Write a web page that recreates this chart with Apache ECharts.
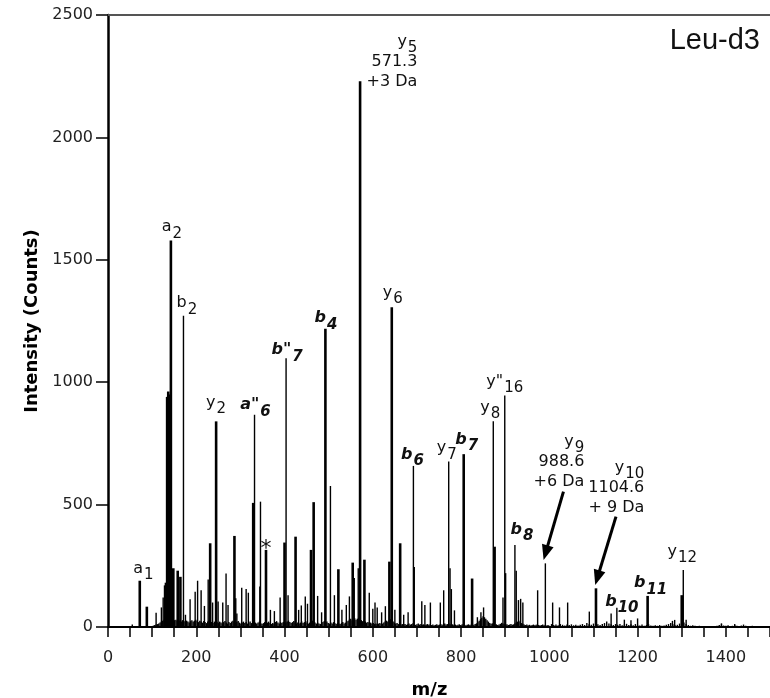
<!DOCTYPE html>
<html><head><meta charset="utf-8">
<script src="https://cdn.jsdelivr.net/npm/echarts/dist/echarts.min.js"></script>
<style>html,body{margin:0;padding:0;background:#fff}#c{width:770px;height:698px}</style>
</head><body><div id="c"></div>
<script>
// ---- data (m/z, intensity) ----
const xTickLabels = [0, 200, 400, 600, 800, 1000, 1200, 1400];
const yTickLabels = [0, 500, 1000, 1500, 2000, 2500];

// strong / broad peaks
const thickPeaks = [
  [72,189],[88,83],[134,940],[136.5,962],[139,950],[142.5,1579],[148,240],[158,230],[164,205],
  [231.5,342],[245,840],[286.5,372],[329,507],[358,315],[400,345],[425,369],[460,315],[466,510],
  [492.6,1218],[522,236],[554.5,263],[571.2,2229],[581,275],[637.6,267],[643,1306],[662,342],
  [806,706],[825,198],[876,328],[1105.7,158],[1222.7,127],[1300,130]
];
// sharp peaks
const thinPeaks = [
  [55,10],[109,58],[121,80],[125,120],[128,170],[130,181],[171,1271],[175.5,50],[186,113],[197.5,144],
  [203,189],[211,150],[218.5,86],[227,194],[237,100],[249.5,104],[260,100],[267.5,219],[272,90],
  [289.5,117],[292,55],[303,160],[313,155],[318,140],[332,867],[344,165],[345.5,512],[368,70],[377,65],
  [390,120],[403.5,1098],[408,130],[432,70],[438,88],[447,125],[452,95],[475,127],[484,60],[504,576],
  [513,130],[530,70],[540,90],[547,125],[558,200],[567,240],[592,140],[600,75],[605,100],[610,80],
  [620,60],[628.5,85],[650,70],[670,50],[680,60],[692,658],[694,245],[711,105],[718,90],[730.5,100],
  [753,100],[760.6,150],[772,676],[775,240],[778,155],[785,68],[837,40],[845,60],[851,80],[873,840],
  [895,120],[899,946],[901,220],[922,335],[925,230],[930,110],[935,115],[940,100],[973.5,150],[991,260],
  [1007.5,100],[1023,80],[1041.5,100],[1090.6,63],[1140,55],[1153,79],[1170,30],[1185,28],[1200,35],
  [1279,25],[1284,29],[1303.5,233],[1310,30],[1390,15],[1420,12]
];
// baseline chemical noise
const noisePeaks = [
  [100,4],[103,6],[106,8],[109,10],[112,12],[115,14],[118,18],[121,22],[124,26],[127,30],[130,34],
  [133,38],[136,36],[139,40],[142,34],[145,38],[148,32],[151,28],[154,30],[157,24],[160,30],[163,26],
  [166,22],[169,28],[172,24],[175,20],[178,26],[181,22],[184,18],[187,24],[190,28],[193,22],[196,26],
  [199,30],[202,24],[205,20],[208,26],[211,22],[214,18],[217,24],[220,20],[223,16],[226,22],[229,28],
  [232,24],[235,20],[238,16],[241,22],[244,26],[247,20],[250,16],[253,22],[256,18],[259,14],[262,20],
  [265,24],[268,18],[271,14],[274,20],[277,16],[280,22],[283,26],[286,20],[289,16],[292,20],[295,24],
  [298,18],[301,14],[304,18],[307,22],[310,16],[313,20],[316,14],[319,18],[322,22],[325,16],[328,20],
  [331,24],[334,18],[337,14],[340,18],[343,22],[346,16],[349,12],[352,16],[355,20],[358,14],[361,18],
  [364,22],[367,16],[370,12],[373,16],[376,14],[379,20],[382,24],[385,18],[388,14],[391,20],[394,16],
  [397,20],[400,24],[403,18],[406,22],[409,26],[412,20],[415,16],[418,20],[421,24],[424,18],[427,14],
  [430,18],[433,14],[436,18],[439,22],[442,16],[445,20],[448,24],[451,18],[454,14],[457,18],[460,22],
  [463,26],[466,22],[469,18],[472,14],[475,18],[478,14],[481,12],[484,16],[487,20],[490,24],[493,18],
  [496,22],[499,16],[502,14],[505,18],[508,14],[511,20],[514,16],[517,12],[520,16],[523,14],[526,12],
  [529,16],[532,20],[535,14],[538,18],[541,22],[544,26],[547,30],[550,34],[553,28],[556,32],[559,36],
  [562,30],[565,34],[568,38],[571,32],[574,28],[577,24],[580,28],[583,22],[586,18],[589,20],[592,16],
  [595,18],[598,14],[601,16],[604,12],[607,14],[610,12],[613,14],[616,16],[619,12],[622,14],[625,18],
  [628,22],[631,26],[634,22],[637,28],[640,32],[643,26],[646,22],[649,18],[652,14],[655,16],[658,12],
  [661,14],[664,10],[667,12],[670,10],[673,12],[676,9],[679,11],[682,14],[685,10],[688,12],[691,15],
  [694,11],[697,9],[700,11],[703,14],[706,10],[709,12],[712,9],[715,11],[718,8],[721,10],[724,12],
  [727,9],[730,11],[733,8],[736,10],[739,7],[742,9],[745,11],[748,8],[751,10],[754,12],[757,9],
  [760,11],[763,14],[766,10],[769,12],[772,15],[775,11],[778,9],[781,11],[784,8],[787,10],[790,7],
  [793,9],[796,11],[799,8],[802,10],[805,12],[808,9],[811,7],[814,9],[817,11],[820,8],[823,10],
  [826,7],[829,9],[832,12],[835,15],[838,20],[841,26],[844,32],[847,38],[850,44],[853,40],[856,34],
  [859,28],[862,22],[865,16],[868,13],[871,15],[874,11],[877,9],[880,11],[883,8],[886,10],[889,13],
  [892,17],[895,14],[898,11],[901,9],[904,11],[907,8],[910,10],[913,12],[916,9],[919,11],[922,14],
  [925,18],[928,22],[931,26],[934,20],[937,16],[940,13],[943,10],[946,8],[949,10],[952,7],[955,9],
  [958,6],[961,8],[964,10],[967,7],[970,9],[973,11],[976,8],[979,6],[982,8],[985,10],[988,7],
  [991,9],[994,6],[997,8],[1000,5],[1005,12],[1010,8],[1015,10],[1020,7],[1025,12],[1030,9],
  [1035,6],[1040,10],[1045,8],[1050,11],[1055,7],[1060,9],[1065,6],[1070,9],[1075,12],[1080,8],
  [1085,16],[1090,11],[1095,9],[1100,14],[1105,18],[1110,11],[1115,8],[1120,12],[1125,16],[1130,22],
  [1135,14],[1140,11],[1145,8],[1150,12],[1155,9],[1160,12],[1165,7],[1170,10],[1175,13],[1180,8],
  [1185,11],[1190,7],[1195,12],[1200,9],[1205,6],[1210,10],[1215,5],[1220,8],[1225,11],[1230,6],
  [1235,5],[1240,7],[1245,5],[1250,8],[1255,5],[1260,6],[1265,9],[1270,12],[1275,16],[1280,11],
  [1285,7],[1290,9],[1295,14],[1305,18],[1310,12],[1315,8],[1320,5],[1325,7],[1330,5],[1335,4],
  [1340,5],[1345,3],[1350,4],[1355,3],[1360,4],[1365,2],[1370,4],[1375,3],[1380,5],[1385,8],
  [1390,11],[1395,6],[1400,5],[1405,7],[1410,4],[1415,5],[1420,9],[1425,5],[1430,3],[1435,6],
  [1440,10],[1445,5],[1450,4],[1455,3],[1460,5],[1465,2],[1470,4]
];

// peak annotations: rich-text markup, anchored at the peak (m/z, intensity)
const peakLabels = [
  {text:'{n|a}{s|1}', mz:72, intensity:189},
  {text:'{n|a}{s|2}', mz:142.5, intensity:1579},
  {text:'{n|b}{s|2}', mz:171, intensity:1271},
  {text:'{n|y}{s|2}', mz:245, intensity:840},
  {text:'{bn|a"}{bs|6}', mz:332, intensity:867},
  {text:'{st|*}', mz:358, intensity:315},
  {text:'{bn|b"}{bs|7}', mz:403.5, intensity:1098},
  {text:'{bn|b}{bs|4}', mz:492.6, intensity:1218},
  {text:'{n|y}{s|6}', mz:643, intensity:1306},
  {text:'{bn|b}{bs|6}', mz:692, intensity:658},
  {text:'{n|y}{s|7}', mz:772, intensity:676},
  {text:'{bn|b}{bs|7}', mz:806, intensity:706},
  {text:'{n|y}{s|8}', mz:873, intensity:840},
  {text:'{n|y"}{s|16}', mz:899, intensity:946},
  {text:'{bn|b}{bs|8}', mz:922, intensity:335},
  {text:'{bn|b}{bs|10}', mz:1153, intensity:79},
  {text:'{bn|b}{bs|11}', mz:1222.7, intensity:127},
  {text:'{n|y}{s|12}', mz:1303.5, intensity:233}
];
const blockLabels = [
  {text:'{n|y}{s|5}\n{n|571.3}\n{n|+3 Da}', mz:571.2, intensity:2229},
  {text:'{n|y}{s|9}\n{n|988.6}\n{n|+6 Da}', mz:991, intensity:260},
  {text:'{n|y}{s|10}\n{n|1104.6}\n{n|+ 9 Da}', mz:1105.7, intensity:158}
];
// arrows: [tail m/z, tail intensity, tip m/z, tip intensity]
const arrows = [[1032,553,987,274],[1151,451,1104,172]];

// ---- layout nudges (pixels) ----
const labelNudge = [[3.7,-2.3],[1,-3.3],[3.5,-2.6],[0,-8.3],[1,0.5],[0,-1],[1,2.1],[0.5,-0.6],[1,-4.3],
  [-1,-0.9],[-2,-3.3],[3,-4.2],[-3,-3.3],[0,-4],[7,-4.9],[5,4],[3,-2.6],[-1,-8.3]];
const blockNudge = [[57.3,10.7],[39,-71.6],[48.3,-70.9]];

const FONT = 'DejaVu Sans';
const rich = {
  n: {fontFamily:FONT, fontSize:16, lineHeight:20, fill:'#111'},
  s: {fontFamily:FONT, fontSize:15, lineHeight:20, padding:[13,0,0,1], fill:'#111'},
  bn: {fontFamily:FONT, fontSize:16, fontWeight:'bold', fontStyle:'italic', lineHeight:20, fill:'#111'},
  bs: {fontFamily:FONT, fontSize:15, fontWeight:'bold', fontStyle:'italic', lineHeight:20, padding:[13,0,0,1], fill:'#111'},
  st: {fontFamily:FONT, fontSize:22, lineHeight:20, fill:'#111'}
};

function stickSeries(data, width) {
  return {
    type:'custom', data, silent:true, encode:{x:0, y:1},
    renderItem(params, api) {
      const p0 = api.coord([api.value(0), 0]);
      const p1 = api.coord([api.value(0), api.value(1)]);
      return {type:'line', shape:{x1:p0[0], y1:p0[1], x2:p1[0], y2:p1[1]},
        style:{stroke:'#000', lineWidth:width}};
    }
  };
}

function labelSeries(list, nudge, align) {
  return {
    type:'custom', silent:true, encode:{x:0, y:1}, z:5,
    data: list.map(l => [l.mz, l.intensity]),
    renderItem(params, api) {
      const i = params.dataIndex;
      const p = api.coord([api.value(0), api.value(1)]);
      const d = nudge[i];
      const isStar = list[i].text.indexOf('{st|') === 0;
      return {type:'text', x:p[0] + d[0], y:p[1] + d[1],
        style:{text:list[i].text, rich, align, verticalAlign: isStar ? 'middle' : 'bottom',
          fontFamily:FONT, fontSize:16, lineHeight:20, fill:'#111'}};
    }
  };
}

const arrowSeries = {
  type:'custom', silent:true, z:6, encode:{x:0, y:1},
  data: arrows,
  renderItem(params, api) {
    const a = api.coord([api.value(0), api.value(1)]);
    const b = api.coord([api.value(2), api.value(3)]);
    const dx = b[0]-a[0], dy = b[1]-a[1];
    const len = Math.sqrt(dx*dx+dy*dy), ux = dx/len, uy = dy/len;
    const hl = 15, hw = 6;
    const bx = b[0]-ux*hl, by = b[1]-uy*hl;
    return {type:'group', children:[
      {type:'line', shape:{x1:a[0], y1:a[1], x2:bx+ux*2, y2:by+uy*2}, style:{stroke:'#000', lineWidth:3}},
      {type:'polygon', shape:{points:[[b[0],b[1]],[bx-uy*hw, by+ux*hw],[bx+uy*hw, by-ux*hw]]}, style:{fill:'#000'}}
    ]};
  }
};

const chart = echarts.init(document.getElementById('c'), null, {renderer:'canvas'});
chart.setOption({
  animation:false,
  backgroundColor:'#fff',
  title:{text:'Leu-d3', right:10, top:26, padding:0,
    textStyle:{fontFamily:'Liberation Sans', fontSize:29, fontWeight:'normal', color:'#111'}},
  grid:{left:108, right:0, top:15, bottom:71, containLabel:false, outerBoundsMode:'none'},
  xAxis:[{
    type:'value', min:0, max:1500, interval:50, position:'bottom',
    axisLine:{show:true, onZero:false, lineStyle:{color:'#000', width:2}},
    axisTick:{show:true, length:10, lineStyle:{color:'#000', width:1.5}},
    axisLabel:{formatter:v => xTickLabels.indexOf(v) >= 0 ? String(v) : '',
      fontFamily:FONT, fontSize:16, color:'#222', margin:23},
    splitLine:{show:false},
    name:'m/z', nameLocation:'middle', nameGap:54,
    nameTextStyle:{fontFamily:FONT, fontWeight:'bold', fontSize:18, color:'#000', padding:[0,19,0,0]}
  },{
    type:'value', min:0, max:1500, position:'top',
    axisLine:{show:true, onZero:false, lineStyle:{color:'#555', width:2}},
    axisTick:{show:false}, axisLabel:{show:false}, splitLine:{show:false}
  }],
  yAxis:{
    type:'value', min:0, max:2500, interval:500,
    axisLine:{show:true, lineStyle:{color:'#000', width:2.5}},
    axisTick:{show:true, length:12, lineStyle:{color:'#000', width:1.5}},
    axisLabel:{formatter:v => yTickLabels.indexOf(v) >= 0 ? String(v) : '',
      fontFamily:FONT, fontSize:16, color:'#222', margin:15},
    splitLine:{show:false},
    name:'Intensity (Counts)', nameLocation:'middle', nameGap:66, nameRotate:90,
    nameTextStyle:{fontFamily:FONT, fontWeight:'bold', fontSize:18, color:'#000'}
  },
  series:[
    stickSeries(noisePeaks, 1.4),
    stickSeries(thinPeaks, 1.4),
    stickSeries(thickPeaks, 2.6),
    labelSeries(peakLabels, labelNudge, 'center'),
    labelSeries(blockLabels, blockNudge, 'right'),
    arrowSeries
  ]
});
</script></body></html>
